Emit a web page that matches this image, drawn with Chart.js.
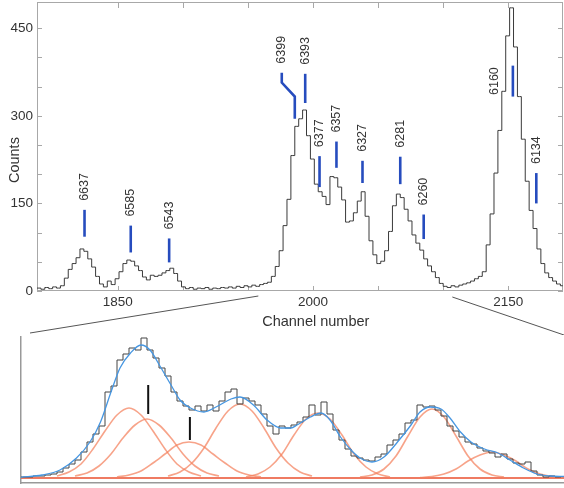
<!DOCTYPE html>
<html>
<head>
<meta charset="utf-8">
<title>Channel spectrum</title>
<script src="https://cdn.jsdelivr.net/npm/chart.js@4.4.1/dist/chart.umd.min.js"></script>
<style>
  html, body { margin: 0; padding: 0; background: #fff; }
  #wrap { position: relative; width: 564px; height: 488px; overflow: hidden; }
  #spectrum { position: absolute; left: 0; top: 0; }
  #detail { position: absolute; left: 0; top: 335px; }
</style>
</head>
<body>
<div id="wrap">
  <canvas id="spectrum" width="564" height="335"></canvas>
  <canvas id="detail" width="564" height="153"></canvas>
</div>
<script>
// ---- full spectrum: counts per 3-channel bin, first bin starts at channel 1788
const binStart = 1788;
const binWidth = 3;
const counts = [
  5, 3, 6, 4, 7, 5, 9,
  22, 37, 47, 57, 72, 68, 55, 41, 25, 12,
  7, 17, 11, 21, 33, 47, 53, 51, 43, 35,
  24, 19, 27, 25, 27, 31, 35, 39, 30, 17, 7,
  4, 6, 3, 5, 4, 6, 3, 5, 4, 6, 5, 7, 5, 8, 6, 9, 7, 10, 8, 11,
  13, 15, 25, 42, 69, 112, 157, 232, 282, 295,
  310, 266, 226, 183, 170, 162, 148, 196, 194, 178,
  156, 118, 120, 134, 154, 170, 128, 86, 62, 47,
  51, 69, 102, 146, 166, 160, 140, 120, 96, 82,
  70, 55, 43, 33, 23, 13, 8, 6, 9, 7,
  10, 12, 14, 17, 21, 25, 33, 79, 132, 202,
  275, 342, 437, 485, 418, 333, 260, 188, 138, 107,
  72, 47, 31, 23, 17, 12, 9
];

// line energies marked above the peaks (channel, top and bottom of the bar in counts)
const markerLabels   = ['6637', '6585', '6543', '6399', '6393', '6377', '6357', '6327', '6281', '6260', '6160', '6134'];
const markerChannels = [1824.5, 1860, 1889.5, 1976, 1994, 2005, 2018, 2038, 2067, 2085, 2153.5, 2171.5];
const markerTops     = [139, 112, 90, 374, 372, 231, 256, 223, 230, 131, 386, 202];
const markerBottoms  = [93, 66, 49, 357, 322, 178, 211, 185, 183, 89, 333, 150];
// 6399 has a kinked bar so it clears 6393
const bentLabel = '6399';
const bendChannels = [1976, 1976, 1986, 1986];
const bendCounts   = [374, 357, 333, 295];
// 6160 is written beside its bar instead of above it
const sideLabels = ['6160'];

// channel window shown enlarged below
const zoomRange = [1958, 2107];

// ---- enlarged window (arbitrary units, no scale shown)
const detailStart = 0;
const detailWidth = 2;
const detailCounts = [
  1, 1, 2, 2, 3, 4, 6, 10, 14, 18,
  26, 36, 44, 52, 86, 92, 118, 124, 130, 128,
  140, 128, 120, 110, 102, 86, 77, 72, 68, 72,
  67, 73, 67, 77, 86, 89, 74, 80, 77, 73,
  64, 52, 44, 52, 50, 53, 56, 61, 73, 63,
  76, 64, 48, 38, 29, 22, 20, 18, 17, 21,
  24, 33, 38, 44, 55, 58, 73, 71, 72, 68,
  62, 52, 47, 41, 36, 34, 30, 27, 25, 21,
  24, 19, 15, 14, 16, 7, 3, 1, 2, 1
];
const fitX = [0, 7, 13, 18.5, 23, 26.5, 30, 33, 36.5, 40, 43, 46.5, 50, 53, 56.5, 61, 65, 70, 73, 77.5,
  82, 86.5, 90, 92, 96.5, 100, 103, 106.5, 110, 113, 117, 121, 125.5, 130, 133, 136.5, 140, 143,
  146.5, 150, 154.5, 159, 163, 167.5, 172, 176.5, 181];
const fitY = [0.7, 3, 8, 20, 36, 56, 86, 110, 125, 133, 128, 111, 93, 78, 70, 66, 71, 79, 81, 73,
  58, 50, 50, 53, 61, 65, 58, 41, 28, 20, 16, 21, 36, 53, 66, 71, 69, 60,
  46, 36, 29, 25, 18, 10, 4, 2, 1.5];
// fitted components: centre and height profile read at these offsets from the centre
const compCenters = [36, 42, 56, 73, 99, 137, 157];
const compOffsets = [-24, -20, -16, -12, -8, -4, 0, 4, 8, 12, 16, 20, 24];
const compValues = [
  [2, 6, 14, 29, 47, 63, 70, 63, 47, 29, 14, 6, 2],
  [2, 5, 12, 24, 40, 53, 59, 53, 40, 24, 12, 5, 2],
  [1, 3, 7, 15, 24, 33, 36, 33, 24, 15, 7, 3, 1],
  [2, 6, 15, 30, 50, 67, 74, 67, 50, 30, 15, 6, 2],
  [1, 4, 11, 24, 43, 59, 65, 59, 43, 24, 11, 4, 1],
  [1, 3, 9, 22, 42, 61, 69, 61, 42, 22, 9, 3, 1],
  [0.5, 1.5, 4, 9, 17, 23, 26, 23, 17, 9, 4, 1.5, 0.5]
];
const detailMarkerX      = [42.4, 56.3];
const detailMarkerTop    = [93, 61];
const detailMarkerBottom = [64, 38];

const FONT = '"Liberation Sans", Arial, sans-serif';
Chart.defaults.font.family = FONT;
Chart.defaults.color = '#333';

function stepPoints(start, width, values) {
  const pts = [{ x: start, y: values[0] }];
  values.forEach((v, i) => pts.push({ x: start + width * (i + 0.5), y: v }));
  pts.push({ x: start + width * values.length, y: values[values.length - 1] });
  return pts;
}

// the scales would otherwise reserve room for half a tick label at each end
function noEndPadding(s) {
  s.paddingTop = 0;
  s.paddingBottom = 0;
  s.paddingLeft = 0;
  s.paddingRight = 0;
}

const BLUE = 'rgb(38, 76, 190)';
const AXIS = '#a8a8a8';

const spectrumDecor = {
  id: 'spectrumDecor',
  beforeDatasetsDraw(chart) {
    const { ctx, chartArea: a, scales: { x, y } } = chart;
    ctx.save();
    ctx.strokeStyle = AXIS;
    ctx.lineWidth = 1;
    ctx.strokeRect(a.left + 0.5, a.top + 0.5, a.right - a.left - 1, a.bottom - a.top - 1);
    // inward ticks on all four sides
    ctx.beginPath();
    x.ticks.forEach((t) => {
      if (t.value % 50) return;
      const px = Math.round(x.getPixelForValue(t.value)) + 0.5;
      ctx.moveTo(px, a.top); ctx.lineTo(px, a.top + 6);
      ctx.moveTo(px, a.bottom); ctx.lineTo(px, a.bottom - 5);
    });
    y.ticks.forEach((t) => {
      if (t.value % 50) return;
      const py = Math.round(y.getPixelForValue(t.value)) + 0.5;
      ctx.moveTo(a.left, py); ctx.lineTo(a.left + 5, py);
      ctx.moveTo(a.right, py); ctx.lineTo(a.right - 5, py);
    });
    ctx.stroke();
    ctx.restore();
  },
  afterDatasetsDraw(chart) {
    const { ctx, scales: { x, y } } = chart;
    ctx.save();
    ctx.font = '12.5px ' + FONT;
    ctx.fillStyle = '#333';
    ctx.textBaseline = 'middle';
    markerLabels.forEach((text, i) => {
      const px = x.getPixelForValue(markerChannels[i]);
      const top = y.getPixelForValue(markerTops[i]);
      const bottom = y.getPixelForValue(markerBottoms[i]);
      ctx.save();
      if (sideLabels.includes(text)) {
        ctx.translate(px - 18, (top + bottom) / 2);
        ctx.textAlign = 'center';
      } else {
        ctx.translate(px, top - 9);
        ctx.textAlign = 'left';
      }
      ctx.rotate(-Math.PI / 2);
      ctx.fillText(text, 0, 0);
      ctx.restore();
    });
    ctx.restore();
  },
  afterDraw(chart) {
    const { ctx, chartArea: a, scales: { x } } = chart;
    ctx.save();
    ctx.fillStyle = '#333';
    ctx.font = '14.5px ' + FONT;
    ctx.textAlign = 'center';
    ctx.textBaseline = 'middle';
    ctx.fillText('Channel number', a.left + (a.right - a.left) * 0.53, a.bottom + 31);
    ctx.translate(15, a.top + (a.bottom - a.top) * 0.547);
    ctx.rotate(-Math.PI / 2);
    ctx.fillText('Counts', 0, 0);
    ctx.restore();
    // lines leading down to the enlarged window
    ctx.save();
    ctx.strokeStyle = '#555';
    ctx.lineWidth = 1;
    ctx.beginPath();
    ctx.moveTo(x.getPixelForValue(zoomRange[0]), a.bottom + 5);
    ctx.lineTo(30, chart.height - 2);
    ctx.moveTo(x.getPixelForValue(zoomRange[1]), a.bottom + 6);
    ctx.lineTo(chart.width, chart.height);
    ctx.stroke();
    ctx.restore();
  }
};

const markerSets = markerLabels
  .map((label, i) => ({ label, i }))
  .filter(({ label }) => label !== bentLabel)
  .map(({ label, i }) => ({
    label,
    data: [{ x: markerChannels[i], y: markerBottoms[i] }, { x: markerChannels[i], y: markerTops[i] }],
    borderColor: BLUE,
    borderWidth: 2.6,
    borderCapStyle: 'butt',
    pointRadius: 0,
    order: 0
  }));

new Chart(document.getElementById('spectrum'), {
  type: 'line',
  data: {
    datasets: [
      ...markerSets,
      {
        label: bentLabel,
        data: bendChannels.map((c, i) => ({ x: c, y: bendCounts[i] })),
        borderColor: BLUE,
        borderWidth: 2.6,
        pointRadius: 0,
        order: 0
      },
      {
        label: 'Counts',
        data: stepPoints(binStart, binWidth, counts),
        stepped: 'middle',
        borderColor: '#3a3a3a',
        borderWidth: 1,
        pointRadius: 0,
        order: 1
      }
    ]
  },
  options: {
    responsive: false,
    animation: false,
    events: [],
    layout: { padding: { top: 2, right: 1, left: 0, bottom: 0 } },
    plugins: { legend: { display: false }, tooltip: { enabled: false } },
    scales: {
      x: {
        type: 'linear',
        min: 1788,
        max: 2192,
        grid: { display: false, drawTicks: false },
        border: { display: false },
        ticks: {
          stepSize: 50,
          autoSkip: false,
          maxRotation: 0,
          padding: 3,
          font: { size: 13.5 },
          color: '#333',
          callback: (v) => (v % 150 === 50 ? String(v) : '')
        },
        afterFit: (s) => { s.height = 44; noEndPadding(s); }
      },
      y: {
        min: 0,
        max: 495,
        grid: { display: false, drawTicks: false },
        border: { display: false },
        ticks: {
          stepSize: 50,
          padding: 4,
          font: { size: 13.5 },
          color: '#333',
          callback: (v) => (v % 150 === 0 ? String(v) : '')
        },
        afterFit: (s) => { s.width = 37; noEndPadding(s); }
      }
    }
  },
  plugins: [spectrumDecor]
});

const ORANGE = 'rgba(244, 128, 92, 0.72)';

const compSets = compCenters.map((c, k) => ({
  label: 'component ' + (k + 1),
  data: compOffsets.map((o, j) => ({ x: c + o, y: compValues[k][j] })),
  borderColor: ORANGE,
  borderWidth: 1.6,
  pointRadius: 0,
  cubicInterpolationMode: 'monotone',
  order: 3
}));

new Chart(document.getElementById('detail'), {
  type: 'line',
  data: {
    datasets: [
      ...detailMarkerX.map((ux, i) => ({
        label: 'marker ' + (i + 1),
        data: [{ x: ux, y: detailMarkerBottom[i] }, { x: ux, y: detailMarkerTop[i] }],
        borderColor: '#111',
        borderWidth: 2,
        pointRadius: 0,
        order: 0
      })),
      {
        label: 'fit',
        data: fitX.map((ux, i) => ({ x: ux, y: fitY[i] })),
        borderColor: 'rgb(70, 150, 225)',
        borderWidth: 1.3,
        pointRadius: 0,
        cubicInterpolationMode: 'monotone',
        order: 1
      },
      {
        label: 'data',
        data: stepPoints(detailStart, detailWidth, detailCounts),
        stepped: 'middle',
        borderColor: '#444',
        borderWidth: 1,
        pointRadius: 0,
        order: 2
      },
      ...compSets,
      {
        label: 'background',
        data: [{ x: 0, y: 0 }, { x: 181, y: 0 }],
        borderColor: 'rgba(236, 100, 70, 0.85)',
        borderWidth: 2,
        pointRadius: 0,
        order: 4
      }
    ]
  },
  options: {
    responsive: false,
    animation: false,
    events: [],
    layout: { padding: { top: 2, right: 0, left: 0, bottom: 0 } },
    plugins: { legend: { display: false }, tooltip: { enabled: false } },
    scales: {
      x: {
        type: 'linear',
        min: 0,
        max: 181,
        grid: { display: false, drawTicks: false },
        border: { display: true, color: '#999', width: 1.5 },
        ticks: { display: false },
        afterFit: (s) => { s.height = 5; noEndPadding(s); }
      },
      y: {
        min: -5,
        max: 141,
        grid: { display: false, drawTicks: false },
        border: { display: true, color: '#999', width: 1.5 },
        ticks: { display: false },
        afterFit: (s) => { s.width = 21; noEndPadding(s); }
      }
    }
  }
});
</script>
</body>
</html>
